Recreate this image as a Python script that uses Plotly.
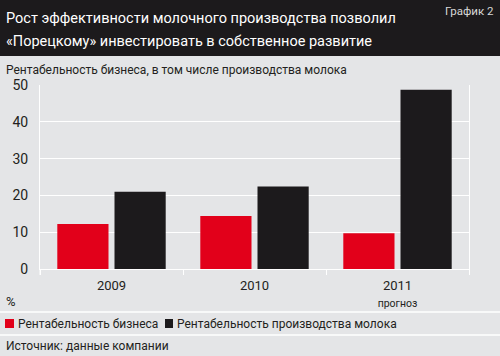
import plotly.graph_objects as go

categories = ["2009", "2010", "2011"]
tick_labels = ["2009", "2010", "2011<br><span style='font-size:10.5px'>прогноз</span>"]
business = [12.2, 14.4, 9.7]
milk = [21.0, 22.4, 48.7]
series_names = ["Рентабельность бизнеса", "Рентабельность производства молока"]
y_ticks = [0, 10, 20, 30, 40, 50]
title_lines = ["Рост эффективности молочного производства позволил",
               "«Порецкому» инвестировать в собственное развитие"]

FONT = "Roboto, Liberation Sans, sans-serif"
RED = "#e2001a"
BLACK = "#1c1a1c"
BG = "#e4e5e7"
TXT = "#231f20"

fig = go.Figure()
fig.add_bar(x=categories, y=business, name=series_names[0], marker=dict(color=RED, line=dict(width=0)))
fig.add_bar(x=categories, y=milk, name=series_names[1], marker=dict(color=BLACK, line=dict(width=0)))

fig.update_layout(
    width=500, height=356,
    margin=dict(l=40, r=31, t=85, b=87),
    paper_bgcolor=BG, plot_bgcolor=BG,
    barmode="group", bargap=0.2, bargroupgap=0.105,
    showlegend=False,
    font=dict(family=FONT, color=TXT, size=13),
)
fig.update_xaxes(
    type="category", tickvals=categories, ticktext=tick_labels,
    showgrid=False, showline=True, linecolor="white", linewidth=1,
    ticks="outside", tickson="boundaries", ticklen=5, tickcolor="white",
    ticklabelstandoff=4, tickfont=dict(size=13, color=TXT),
)
fig.update_yaxes(
    range=[0, 50], tickvals=y_ticks, showgrid=True, gridcolor="white", gridwidth=1,
    showline=True, linecolor="white", mirror=True, zeroline=False,
    ticks="", ticklabelstandoff=8, tickfont=dict(size=14, color=TXT),
)

def px_x(x):
    return (x - 40) / 429

def px_y(y):
    return (269 - y) / 184

shapes = [
    dict(type="rect", xref="paper", yref="paper", x0=px_x(0), x1=px_x(500), y0=px_y(56), y1=px_y(0),
         fillcolor=BLACK, line=dict(width=0), layer="below"),
    dict(type="line", xref="paper", yref="paper", x0=px_x(0), x1=px_x(500), y0=px_y(312), y1=px_y(312),
         line=dict(color="white", width=1.5)),
    dict(type="line", xref="paper", yref="paper", x0=px_x(0), x1=px_x(500), y0=px_y(335), y1=px_y(335),
         line=dict(color="white", width=1.5)),
    dict(type="line", xref="paper", yref="paper", x0=0, x1=0, y0=0, y1=px_y(275),
         line=dict(color="white", width=1)),
    dict(type="rect", xref="paper", yref="paper", x0=px_x(5), x1=px_x(14), y0=px_y(328), y1=px_y(319),
         fillcolor=RED, line=dict(width=0)),
    dict(type="rect", xref="paper", yref="paper", x0=px_x(165), x1=px_x(173), y0=px_y(328), y1=px_y(319),
         fillcolor=BLACK, line=dict(width=0)),
]

def ann(text, x, y, size, color=TXT, xanchor="left"):
    return dict(text=text, x=px_x(x), y=px_y(y), xref="paper", yref="paper", xanchor=xanchor,
                yanchor="middle", showarrow=False, font=dict(size=size, color=color, family=FONT))

annotations = [
    ann(title_lines[0], 4, 18, 14.5, "white"),
    ann(title_lines[1], 4, 42, 14.5, "white"),
    ann("График 2", 496, 11, 11.5, "#d8d8d8", "right"),
    ann("Рентабельность бизнеса, в том числе производства молока", 4, 70, 12),
    ann("%", 4, 301, 13),
    ann(series_names[0], 16, 323.5, 12),
    ann(series_names[1], 175, 323.5, 12),
    ann("Источник: данные компании", 4, 346, 12),
]
fig.update_layout(shapes=shapes, annotations=annotations)
fig.write_html("out.html", config={"displayModeBar": False},
               post_script="document.body.style.margin='0';document.body.style.overflow='hidden';")
